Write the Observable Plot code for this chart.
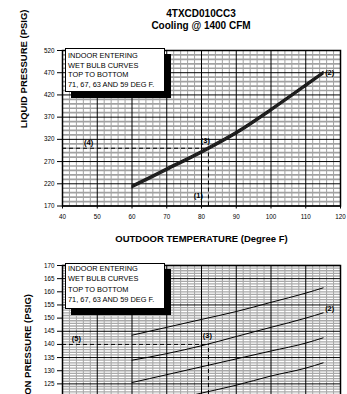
<!DOCTYPE html>
<html><head><meta charset="utf-8">
<script src="https://cdn.jsdelivr.net/npm/d3@7"></script>
<script src="https://cdn.jsdelivr.net/npm/@observablehq/plot@0.6"></script>
<style>
body{margin:0;background:#fff;font-family:"Liberation Sans",Arial,sans-serif;width:347px;height:394px;overflow:hidden;position:relative}
.t{position:absolute;left:62px;width:278px;text-align:center;font-weight:bold;font-size:10px;line-height:12px}
.legend{position:absolute;border:1px solid #000;background:#fff;box-shadow:6px 6px 0 #000;font-size:7.4px;padding-left:2px;box-sizing:border-box;white-space:nowrap;z-index:2}
#top{position:absolute;left:0;top:34px}
#bottom{position:absolute;left:0;top:254px}
svg{overflow:visible}
</style></head>
<body>
<div class="t" style="top:8px">4TXCD010CC3</div>
<div class="t" style="top:20px">Cooling @ 1400 CFM</div>
<div id="top"></div>
<div id="bottom"></div>
<div class="legend" style="left:65px;top:48px;width:100px;height:44px;padding-top:2px;line-height:9.6px">INDOOR ENTERING<br>WET BULB CURVES<br>TOP TO BOTTOM<br>71, 67, 63 AND 59 DEG F.</div>
<div class="legend" style="left:65px;top:263px;width:100px;height:46px;padding-top:0px;line-height:10.3px">INDOOR ENTERING<br>WET BULB CURVES<br>TOP TO BOTTOM<br>71, 67, 63 AND 59 DEG F.</div>
<script>
// ---- data ----
const temps = [60, 70, 80, 90, 100, 110, 115];
const wetBulbs = ["71", "67", "63", "59"];
const liquid71 = [217, 256, 295, 338, 390, 445, 473];
const liquid67 = [215, 254, 293, 336, 388, 443, 471];
const liquid63 = [213, 252, 291, 334, 386, 441, 469];
const liquid59 = [211, 250, 289, 332, 384, 439, 467];
const suction71 = [143.5, 146.5, 149.5, 152.5, 156, 159.5, 161.5];
const suction67 = [134, 136.5, 139.5, 143, 146.5, 150, 152];
const suction63 = [125.5, 128.5, 131.5, 134.5, 137.5, 140.5, 142.5];
const suction59 = [116, 118.5, 121.5, 124.5, 128, 131, 133];
const xTicks = [40, 50, 60, 70, 80, 90, 100, 110, 120];
const liquidTicks = [170, 220, 270, 320, 370, 420, 470, 520];
const suctionTicks = [105, 110, 115, 120, 125, 130, 135, 140, 145, 150, 155, 160, 165, 170];
const suctionMajor = [105, 115, 125, 135, 145, 155, 165];
const opPoint = [{temp: 82, liquid: 300, suction: 140, tMin: 40, lMin: 170, sMin: 105}];
const liquidNotes = [
  {label: "(4)", temp: 47.5, p: 300, dx: 0, dy: -6, anchor: "middle"},
  {label: "(3)", temp: 82, p: 300, dx: -3, dy: -8, anchor: "middle"},
  {label: "(1)", temp: 82, p: 170, dx: -10, dy: -10, anchor: "middle"},
  {label: "(2)", temp: 115, p: 470, dx: 2, dy: 0, anchor: "start"}
];
const suctionNotes = [
  {label: "(5)", temp: 44, p: 140, dx: 0, dy: -6, anchor: "middle"},
  {label: "(3)", temp: 82, p: 140, dx: -1, dy: -9, anchor: "middle"},
  {label: "(2)", temp: 115, p: 152, dx: 2, dy: -4, anchor: "start"}
];

const rows = (series) => series.flatMap((vals, k) => temps.map((t, i) => ({temp: t, p: vals[i], wb: wetBulbs[k]})));
const liquidRows = rows([liquid71, liquid67, liquid63, liquid59]);
const suctionRows = rows([suction71, suction67, suction63, suction59]);

const minorX = d3.range(40, 121, 2).filter(v => v % 10 !== 0);
const font = '"Liberation Sans", Arial, sans-serif';

function noteMarks(data) {
  return data.map(d => Plot.text([d], {x: "temp", y: "p", text: "label", dx: d.dx, dy: d.dy,
    textAnchor: d.anchor, fontWeight: "bold", fontSize: 7.5, fill: "#000"}));
}

const topChart = Plot.plot({
  width: 347, height: 220,
  marginLeft: 62, marginRight: 7, marginTop: 16, marginBottom: 48.5,
  style: {fontFamily: font, fontSize: "6.3px", color: "#000", background: "transparent", overflow: "visible"},
  x: {domain: [40, 120], ticks: xTicks, tickSize: 3, tickPadding: 6, label: null},
  y: {domain: [170, 520], ticks: liquidTicks, tickSize: 5, tickPadding: 3, label: null},
  marks: [
    Plot.ruleX(minorX, {stroke: "#8c8c8c", strokeWidth: 0.8}),
    Plot.ruleY(d3.range(170, 521, 10).filter(v => (v - 170) % 50 !== 0), {stroke: "#a0a0a0", strokeWidth: 1.7}),
    Plot.ruleX(xTicks, {stroke: "#000", strokeWidth: 1}),
    Plot.ruleY(liquidTicks, {stroke: "#000", strokeWidth: 1}),
    Plot.frame({stroke: "#000", strokeWidth: 1.5}),
    Plot.ruleY(opPoint, {y: "liquid", x1: "tMin", x2: "temp", stroke: "#000", strokeWidth: 1, strokeDasharray: "4,3"}),
    Plot.ruleX(opPoint, {x: "temp", y1: "lMin", y2: "liquid", stroke: "#000", strokeWidth: 1, strokeDasharray: "4,3"}),
    Plot.line(liquidRows, {x: "temp", y: "p", z: "wb", stroke: "#1a1a1a", strokeWidth: 1.2, curve: "monotone-x"}),
    ...noteMarks(liquidNotes),
    Plot.text(["LIQUID PRESSURE (PSIG)"], {frameAnchor: "left", dx: -38.5, rotate: -90, fontWeight: "bold", fontSize: 9.5, fill: "#000"}),
    Plot.text(["OUTDOOR TEMPERATURE (Degree F)"], {frameAnchor: "bottom", dy: 36, fontWeight: "bold", fontSize: 9.5, fill: "#000"})
  ]
});
document.getElementById("top").append(topChart);

const bottomChart = Plot.plot({
  width: 347, height: 228,
  marginLeft: 62, marginRight: 7, marginTop: 11, marginBottom: 46,
  style: {fontFamily: font, fontSize: "6.3px", color: "#000", background: "transparent", overflow: "visible"},
  x: {domain: [40, 120], ticks: xTicks, tickSize: 3, tickPadding: 6, label: null},
  y: {domain: [105, 170], ticks: suctionTicks, tickSize: 5, tickPadding: 3, label: null},
  marks: [
    Plot.ruleX(minorX, {stroke: "#8c8c8c", strokeWidth: 0.8}),
    Plot.ruleY(d3.range(105, 171, 1).filter(v => (v - 105) % 10 !== 0), {stroke: "#a8a8a8", strokeWidth: 1.3}),
    Plot.ruleX(xTicks, {stroke: "#000", strokeWidth: 1}),
    Plot.ruleY(suctionMajor, {stroke: "#000", strokeWidth: 1}),
    Plot.frame({stroke: "#000", strokeWidth: 1.5}),
    Plot.ruleY(opPoint, {y: "suction", x1: "tMin", x2: "temp", stroke: "#000", strokeWidth: 1, strokeDasharray: "4,3"}),
    Plot.ruleX(opPoint, {x: "temp", y1: "sMin", y2: "suction", stroke: "#000", strokeWidth: 1, strokeDasharray: "4,3"}),
    Plot.line(suctionRows, {x: "temp", y: "p", z: "wb", stroke: "#000", strokeWidth: 1, curve: "monotone-x"}),
    ...noteMarks(suctionNotes),
    Plot.text(["SUCTION PRESSURE (PSIG)"], {frameAnchor: "top-left", dx: -38.5, dy: 28.5, rotate: -90, textAnchor: "end", fontWeight: "bold", fontSize: 9.5, fill: "#000"}),
    Plot.text(["OUTDOOR TEMPERATURE (Degree F)"], {frameAnchor: "bottom", dy: 36, fontWeight: "bold", fontSize: 9.5, fill: "#000"})
  ]
});
document.getElementById("bottom").append(bottomChart);
</script>
</body></html>
